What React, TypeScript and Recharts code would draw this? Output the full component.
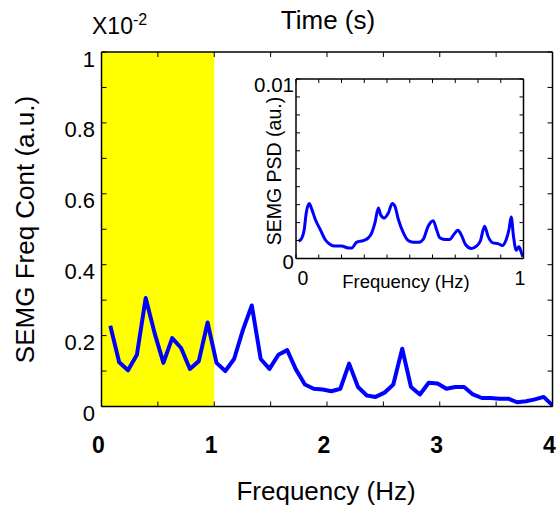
import React from 'react';
import { LineChart, Line, XAxis, YAxis, ReferenceArea } from 'recharts';

const FONT = '"Liberation Sans", Arial, Helvetica, sans-serif';

// Main plot: frequency (Hz) and SEMG frequency content (x10^-2 a.u.)
const mainFreq = [
  0.078, 0.157, 0.235, 0.314, 0.392, 0.471, 0.549, 0.627, 0.706, 0.784,
  0.863, 0.941, 1.02, 1.098, 1.176, 1.255, 1.333, 1.412, 1.49, 1.569,
  1.647, 1.725, 1.804, 1.882, 1.961, 2.039, 2.118, 2.196, 2.275, 2.353,
  2.431, 2.51, 2.588, 2.667, 2.745, 2.824, 2.902, 2.98, 3.059, 3.137,
  3.216, 3.294, 3.373, 3.451, 3.529, 3.608, 3.686, 3.765, 3.843, 3.922, 4.0,
];
const mainValues = [
  0.228, 0.125, 0.102, 0.146, 0.306, 0.207, 0.123, 0.193, 0.165, 0.106,
  0.128, 0.237, 0.123, 0.1, 0.134, 0.217, 0.285, 0.134, 0.106, 0.146,
  0.159, 0.104, 0.062, 0.05, 0.048, 0.043, 0.05, 0.121, 0.055, 0.031,
  0.027, 0.039, 0.062, 0.163, 0.055, 0.034, 0.067, 0.065, 0.05, 0.055,
  0.055, 0.034, 0.024, 0.024, 0.022, 0.022, 0.012, 0.015, 0.02, 0.027, 0.003,
];
const mainXTicks = [0, 0.5, 1, 1.5, 2, 2.5, 3, 3.5, 4];
const mainXLabels = ['0', '1', '2', '3', '4'];
const mainYTicks = [0, 0.1, 0.2, 0.3, 0.4, 0.5, 0.6, 0.7, 0.8, 0.9, 1];
const mainYLabels = ['0', '0.2', '0.4', '0.6', '0.8', '1'];
const highlightBand = [0, 1];

// Inset: SEMG PSD
const insetFreq = [
  0.012, 0.026, 0.036, 0.045, 0.058, 0.07, 0.085, 0.107, 0.128, 0.15,
  0.172, 0.2, 0.23, 0.245, 0.267, 0.296, 0.318, 0.333, 0.347, 0.362,
  0.372, 0.387, 0.406, 0.423, 0.435, 0.45, 0.472, 0.493, 0.515, 0.542,
  0.559, 0.581, 0.603, 0.618, 0.632, 0.654, 0.676, 0.693, 0.712, 0.726,
  0.745, 0.771, 0.793, 0.81, 0.829, 0.844, 0.866, 0.888, 0.907, 0.924,
  0.936, 0.946, 0.956, 0.968, 0.98, 0.99, 0.997,
];
const insetValues = [
  0.00096, 0.00115, 0.0016, 0.00254, 0.00306, 0.00272, 0.00217, 0.0016, 0.00106, 0.00078,
  0.00069, 0.00069, 0.00059, 0.00059, 0.00091, 0.001, 0.00115, 0.00143, 0.00198, 0.00281,
  0.00244, 0.00226, 0.00254, 0.00306, 0.0029, 0.00217, 0.00143, 0.001, 0.00091, 0.00091,
  0.00106, 0.0018, 0.00211, 0.0016, 0.00115, 0.00106, 0.00106, 0.00133, 0.00157, 0.00133,
  0.00078, 0.00056, 0.00069, 0.00096, 0.0018, 0.00124, 0.00087, 0.00083, 0.00072, 0.00106,
  0.0016, 0.00231, 0.00124, 0.00046, 0.00065, 0.00035, 0.00009,
];
const insetXTicks = [0, 0.1, 0.2, 0.3, 0.4, 0.5, 0.6, 0.7, 0.8, 0.9, 1];
const insetYTicks = [0, 0.001, 0.002, 0.003, 0.004, 0.005, 0.006, 0.007, 0.008, 0.009, 0.01];
const insetXLabels: Record<string, string> = { '0': '0', '1': '1' };
const insetYLabels: Record<string, string> = { '0': '0', '0.01': '0.01' };

const mainData = mainFreq.map((f, i) => ({ f, v: mainValues[i] }));
const insetData = insetFreq.map((f, i) => ({ f, v: insetValues[i] }));

const fmtLabel = (v: number) => String(Math.round(v * 10) / 10);

const MainXTick = (props: any) => {
  const { x, y, payload } = props;
  const lbl = fmtLabel(payload.value);
  if (!Number.isInteger(payload.value) || !mainXLabels.includes(lbl)) return <g />;
  return (
    <text x={x - 3} y={y + 46.5} textAnchor="middle" fontFamily={FONT} fontSize={23} fontWeight="bold" fill="#000">
      {lbl}
    </text>
  );
};

const MainYTick = (props: any) => {
  const { x, y, payload } = props;
  const lbl = fmtLabel(payload.value);
  const isMajor = Math.abs(payload.value * 5 - Math.round(payload.value * 5)) < 1e-6;
  if (!isMajor || !mainYLabels.includes(lbl)) return <g />;
  return (
    <text x={x - 6.5} y={y + 14.5} textAnchor="end" fontFamily={FONT} fontSize={22} fill="#000">
      {lbl}
    </text>
  );
};

const InsetXTick = (props: any) => {
  const { x, y, payload } = props;
  const lbl = insetXLabels[String(payload.value)];
  if (!lbl) return <g />;
  const dx = payload.value === 0 ? 7 : -3.5;
  return (
    <text x={x + dx} y={y + 26.5} textAnchor="middle" fontFamily={FONT} fontSize={19.5} fill="#000">
      {lbl}
    </text>
  );
};

const InsetYTick = (props: any) => {
  const { x, y, payload } = props;
  const lbl = insetYLabels[String(payload.value)];
  if (!lbl) return <g />;
  const dy = payload.value === 0 ? 10 : 13;
  return (
    <text x={x - 2} y={y + dy} textAnchor="end" fontFamily={FONT} fontSize={20.5} fill="#000">
      {lbl}
    </text>
  );
};

const blank = () => '';
const axisLine = { stroke: '#000', strokeWidth: 1.5 };
const tickLine = { stroke: '#000', strokeWidth: 1 };

export default function App() {
  return (
    <div style={{ position: 'absolute', left: 0, top: 0, width: 560, height: 512, background: '#fff' }}>
      <div style={{ position: 'absolute', left: 0, top: 0 }}>
        <LineChart width={560} height={512} data={mainData} margin={{ top: 51, right: 6.5, bottom: 104.5, left: 100.5 }}>
          <XAxis xAxisId="b" dataKey="f" type="number" domain={[0, 4]} ticks={mainXTicks} interval={0}
            orientation="bottom" height={1} tickSize={-5} tickMargin={5} axisLine={axisLine} tickLine={tickLine}
            tick={<MainXTick />} allowDataOverflow />
          <XAxis xAxisId="t" dataKey="f" type="number" domain={[0, 4]} ticks={mainXTicks} interval={0}
            orientation="top" height={1} tickSize={-5} axisLine={axisLine} tickLine={tickLine}
            tickFormatter={blank} allowDataOverflow />
          <YAxis yAxisId="l" type="number" domain={[0, 1]} ticks={mainYTicks} interval={0}
            orientation="left" width={1} tickSize={-5} tickMargin={5} axisLine={axisLine} tickLine={tickLine}
            tick={<MainYTick />} allowDataOverflow />
          <YAxis yAxisId="r" type="number" domain={[0, 1]} ticks={mainYTicks} interval={0}
            orientation="right" width={1} tickSize={-5} axisLine={axisLine} tickLine={tickLine}
            tickFormatter={blank} allowDataOverflow />
          <ReferenceArea xAxisId="b" yAxisId="l" x1={highlightBand[0]} x2={highlightBand[1]} y1={0} y2={1}
            fill="#ffff00" fillOpacity={1} stroke="none" />
          <Line xAxisId="b" yAxisId="l" dataKey="v" type="linear" stroke="#0000ff" strokeWidth={4}
            dot={false} isAnimationActive={false} strokeLinejoin="round" />
        </LineChart>
      </div>
      <div style={{ position: 'absolute', left: 0, top: 0 }}>
        <LineChart width={560} height={512} data={insetData} margin={{ top: 78, right: 35.5, bottom: 252.5, left: 295 }}>
          <XAxis xAxisId="b" dataKey="f" type="number" domain={[0, 1]} ticks={insetXTicks} interval={0}
            orientation="bottom" height={1} tickSize={-4} tickMargin={4} axisLine={axisLine} tickLine={tickLine}
            tick={<InsetXTick />} allowDataOverflow />
          <XAxis xAxisId="t" dataKey="f" type="number" domain={[0, 1]} ticks={insetXTicks} interval={0}
            orientation="top" height={1} tickSize={-4} axisLine={axisLine} tickLine={tickLine}
            tickFormatter={blank} allowDataOverflow />
          <YAxis yAxisId="l" type="number" domain={[0, 0.01]} ticks={insetYTicks} interval={0}
            orientation="left" width={1} tickSize={-4} tickMargin={4} axisLine={axisLine} tickLine={tickLine}
            tick={<InsetYTick />} allowDataOverflow />
          <YAxis yAxisId="r" type="number" domain={[0, 0.01]} ticks={insetYTicks} interval={0}
            orientation="right" width={1} tickSize={-4} axisLine={axisLine} tickLine={tickLine}
            tickFormatter={blank} allowDataOverflow />
          <Line xAxisId="b" yAxisId="l" dataKey="v" type="monotone" stroke="#0000ff" strokeWidth={3}
            dot={false} isAnimationActive={false} strokeLinejoin="round" />
        </LineChart>
      </div>
      <svg width={560} height={512} style={{ position: 'absolute', left: 0, top: 0, pointerEvents: 'none' }}>
        <text x={92} y={34} fontFamily={FONT} fontSize={23} fill="#000">
          X10<tspan fontSize={16} dy={-9}>-2</tspan>
        </text>
        <text x={328} y={29} textAnchor="middle" fontFamily={FONT} fontSize={26} fill="#000">Time (s)</text>
        <text x={326} y={500} textAnchor="middle" fontFamily={FONT} fontSize={26} fill="#000">Frequency (Hz)</text>
        <text x={34} y={229.5} transform="rotate(-90, 34, 229.5)" textAnchor="middle" fontFamily={FONT} fontSize={26} fill="#000">
          SEMG Freq Cont (a.u.)
        </text>
        <text x={406} y={288} textAnchor="middle" fontFamily={FONT} fontSize={18.5} fill="#000">Frequency (Hz)</text>
        <text x={281} y={171} transform="rotate(-90, 281, 171)" textAnchor="middle" fontFamily={FONT} fontSize={19.5} fill="#000">
          SEMG PSD (au.)
        </text>
      </svg>
    </div>
  );
}
